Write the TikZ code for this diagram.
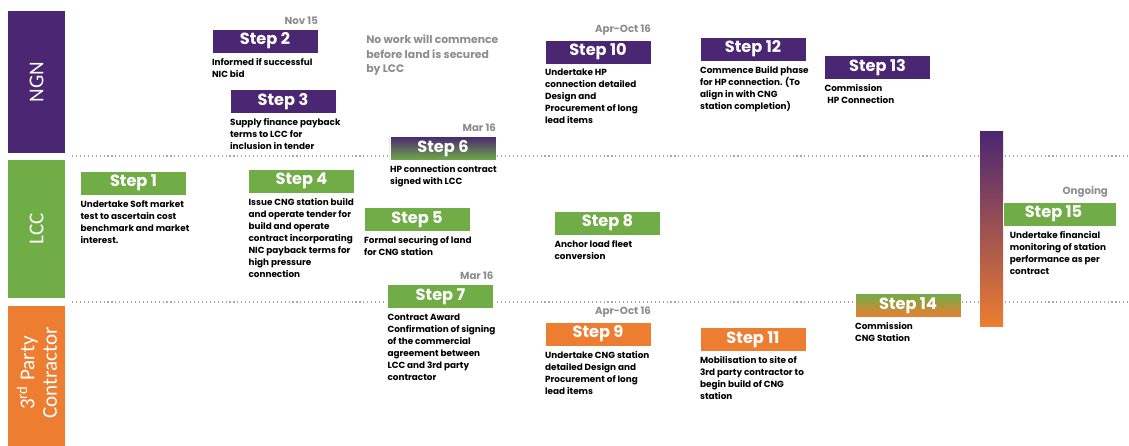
\documentclass[tikz,border=0pt]{standalone}
\usepackage{fontspec}
\setmainfont{Poppins}
\newfontfamily\lanefont{Carlito}
\usetikzlibrary{positioning}

\definecolor{ngnpurple}{HTML}{4B2672}
\definecolor{lccgreen}{HTML}{70AD47}
\definecolor{tpcorange}{HTML}{ED7D31}
\definecolor{dategray}{HTML}{8C8C8C}

\tikzset{
    lane/.style={text=white, rotate=90, align=center, inner sep=0pt,
        font=\lanefont\fontsize{15}{16}\selectfont},
    stepbox/.style={minimum width=2.65cm, minimum height=0.6cm, inner sep=0pt,
        text=white, draw=white, line width=0.3pt,
        font=\bfseries\fontsize{11.5}{12}\selectfont},
    ngnstep/.style={stepbox, fill=ngnpurple},
    lccstep/.style={stepbox, fill=lccgreen},
    tpcstep/.style={stepbox, fill=tpcorange},
    desc/.style={inner sep=0pt, align=left,
        font=\bfseries\fontsize{6.3}{8.5}\selectfont},
    when/.style={inner sep=0pt, text=dategray,
        font=\bfseries\fontsize{7.3}{8}\selectfont},
    laneline/.style={dotted, gray!70, line width=0.8pt}
}

\begin{document}
\begin{tikzpicture}[x=0.025cm, y=-0.025cm]
    \useasboundingbox (0,0) rectangle (1129,446);

    % swim lanes
    \fill[ngnpurple] (8,11) rectangle (65,153);
    \fill[lccgreen] (8,160) rectangle (65,298);
    \fill[tpcorange] (8,306) rectangle (65,446);
    \node[lane] (ngn) at (36.5,82) {NGN};
    \node[lane] (lcc) at (36.5,229) {LCC};
    \node[lane] (tpc) at (37,373) {3\textsuperscript{rd} Party\\Contractor};

    \draw[laneline] (72,156) -- (1129,156);
    \draw[laneline] (72,302) -- (1129,302);

    % note
    \node[when, anchor=north west, align=left, font=\bfseries\fontsize{7.7}{10.3}\selectfont] (note) at (366,35)
        {No work will commence\\before land is secured\\by LCC};

    % shaded bar
    \node[minimum width=0.575cm, minimum height=4.85cm, inner sep=0pt,
        top color=ngnpurple, middle color=lccgreen, bottom color=tpcorange] (bar) at (991.5,229) {};

    % NGN steps
    \node[ngnstep] (s2) at (265,41) {Step 2};
    \node[ngnstep] (s3) at (283,101.5) {Step 3};
    \node[ngnstep] (s10) at (598,52) {Step 10};
    \node[ngnstep] (s12) at (753,49) {Step 12};
    \node[ngnstep] (s13) at (877.5,67.5) {Step 13};
    \node[stepbox, top color=ngnpurple, bottom color=lccgreen] (s6) at (443,148.5) {Step 6};

    % LCC steps
    \node[lccstep] (s1) at (133.5,183) {Step 1};
    \node[lccstep] (s4) at (301.5,181) {Step 4};
    \node[lccstep] (s5) at (417,219.5) {Step 5};
    \node[lccstep] (s8) at (607.5,223) {Step 8};
    \node[lccstep] (s7) at (440.5,296.5) {Step 7};
    \node[lccstep, minimum width=2.825cm] (s15) at (1059.5,214) {\hspace{-0.3cm}Step 15};

    % 3rd party steps
    \node[tpcstep] (s9) at (598,334) {Step 9};
    \node[tpcstep] (s11) at (753,339.5) {Step 11};
    \node[stepbox, top color=lccgreen, bottom color=tpcorange] (s14) at (908,305.5) {Step 14};

    % dates
    \node[when, above left=0.1cm and 0cm of s2.north east] (d2) {Nov 15};
    \node[when, above left=0.1cm and 0cm of s10.north east] (d10) {Apr-Oct 16};
    \node[when, above left=0.1cm and 0cm of s6.north east] (d6) {Mar 16};
    \node[when, above left=0.1cm and 0cm of s7.north east] (d7) {Mar 16};
    \node[when, above left=0.1cm and 0cm of s9.north east] (d9) {Apr-Oct 16};
    \node[when, above left=0.1cm and 0.2cm of s15.north east] (d15) {Ongoing};

    % descriptions
    \node[desc, below right=0.12cm and 0cm of s1.south west] (t1)
        {Undertake Soft market\\test to ascertain cost\\benchmark and market\\interest.};
    \node[desc, below right=0.12cm and 0cm of s2.south west] (t2)
        {Informed if successful\\NIC bid};
    \node[desc, below right=0.12cm and 0cm of s3.south west] (t3)
        {Supply finance payback\\terms to LCC for\\inclusion in tender};
    \node[desc, below right=0.12cm and 0cm of s4.south west] (t4)
        {Issue CNG station build\\and operate tender for\\build and operate\\contract incorporating\\NIC payback terms for\\high pressure\\connection};
    \node[desc, below right=0.12cm and 0cm of s5.south west] (t5)
        {Formal securing of land\\for CNG station};
    \node[desc, below right=0.12cm and 0cm of s6.south west] (t6)
        {HP connection contract\\signed with LCC};
    \node[desc, below right=0.12cm and 0cm of s7.south west] (t7)
        {Contract Award\\Confirmation of signing\\of the commercial\\agreement between\\LCC and 3rd party\\contractor};
    \node[desc, below right=0.12cm and 0cm of s8.south west] (t8)
        {Anchor load fleet\\conversion};
    \node[desc, below right=0.12cm and 0cm of s9.south west] (t9)
        {Undertake CNG station\\detailed Design and\\Procurement of long\\lead items};
    \node[desc, below right=0.12cm and 0cm of s10.south west] (t10)
        {Undertake HP\\connection detailed\\Design and\\Procurement of long\\lead items};
    \node[desc, below right=0.12cm and 0cm of s11.south west] (t11)
        {Mobilisation to site of\\3rd party contractor to\\begin build of CNG\\station};
    \node[desc, below right=0.12cm and 0cm of s12.south west] (t12)
        {Commence Build phase\\for HP connection. (To\\align in with CNG\\station completion)};
    \node[desc, below right=0.12cm and 0cm of s13.south west] (t13)
        {Commission\\\hspace{2pt}HP Connection};
    \node[desc, below right=0.12cm and 0cm of s14.south west] (t14)
        {Commission\\CNG Station};
    \node[desc, below right=0.12cm and 0.17cm of s15.south west] (t15)
        {Undertake financial\\monitoring of station\\performance as per\\contract};
\end{tikzpicture}
\end{document}
